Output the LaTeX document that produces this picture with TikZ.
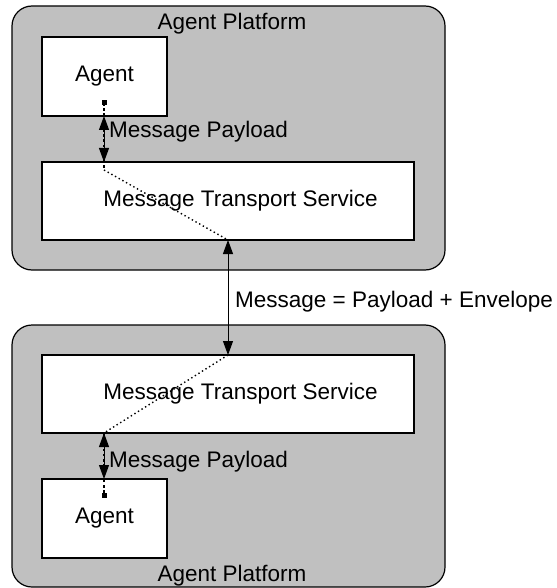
\documentclass[tikz,border=0pt]{standalone}
\usepackage{fontspec}
\setmainfont{Liberation Sans}
\usetikzlibrary{arrows.meta}
\definecolor{platgray}{HTML}{C0C0C0}
\begin{document}
\begin{tikzpicture}[x=1pt,y=-1pt,
  platform/.style={draw=black, line width=1.2pt, fill=platgray, rounded corners=20pt,
    anchor=north west, outer sep=0pt, inner sep=0pt, minimum width=433pt},
  box/.style={draw=black, line width=1.1pt, fill=white, anchor=north west,
    outer sep=0pt, inner sep=0pt, font=\fontsize{22.5}{27}\selectfont},
  lbl/.style={font=\fontsize{22.5}{27}\selectfont, inner sep=0pt},
  msgarrow/.style={line width=1pt, {Triangle[length=14pt,width=10pt]}-{Triangle[length=14pt,width=10pt]}},
  thickdots/.style={line width=2.6pt, dash pattern=on 2.6pt off 2.6pt},
  thindots/.style={line width=1.4pt, dash pattern=on 1.4pt off 2.8pt},
  enddot/.style={fill=black, minimum size=5pt, inner sep=0pt, outer sep=0pt, rectangle}]
\useasboundingbox (0,0) rectangle (556,588);
% platforms
\node[platform, minimum height=264pt] (platT) at (12,6) {};
\node[platform, minimum height=262pt] (platB) at (12,325) {};
\node[lbl] (platTlbl) at (232,24) {Agent Platform};
\node[lbl] (platBlbl) at (232,576) {Agent Platform};
% boxes
\node[box, minimum width=125pt, minimum height=79pt] (agentT) at (42,37) {\raisebox{-2pt}{Agent}};
\node[box, minimum width=125pt, minimum height=79pt] (agentB) at (42,479) {\raisebox{-2pt}{Agent}};
\node[box, minimum width=372pt, minimum height=78pt] (mtsT) at (42,162) {\hspace*{25pt}Message Transport Service};
\node[box, minimum width=372pt, minimum height=78pt] (mtsB) at (42,355) {\hspace*{25pt}Message Transport Service};
% helper coordinates
\coordinate (colA) at (104,0);
\coordinate (colM) at (228,0);
\coordinate (dotT) at (104,103);
\coordinate (kneeT) at (104,170);
\coordinate (dotB) at (104,495);
% payload arrows
\draw[msgarrow] (agentT.south -| colA) -- (mtsT.north -| colA);
\draw[msgarrow] (mtsB.south -| colA) -- (agentB.north -| colA);
\node[lbl, anchor=west] (plT) at (109,132) {Message Payload};
\node[lbl, anchor=west] (plB) at (109,462) {Message Payload};
% message arrow
\draw[msgarrow] (mtsT.south -| colM) -- (mtsB.north -| colM);
\node[lbl, anchor=west] (msg) at (235,302) {Message = Payload + Envelope};
% dotted paths
\draw[thickdots] (dotT) -- (kneeT);
\node[enddot] (endT) at (dotT) {};
\draw[thindots] (kneeT) -- (mtsT.south -| colM);
\draw[thindots] (mtsB.north -| colM) -- (mtsB.south -| colA);
\draw[thickdots] (mtsB.south -| colA) -- (dotB);
\node[enddot] (endB) at (dotB) {};
\end{tikzpicture}
\end{document}
